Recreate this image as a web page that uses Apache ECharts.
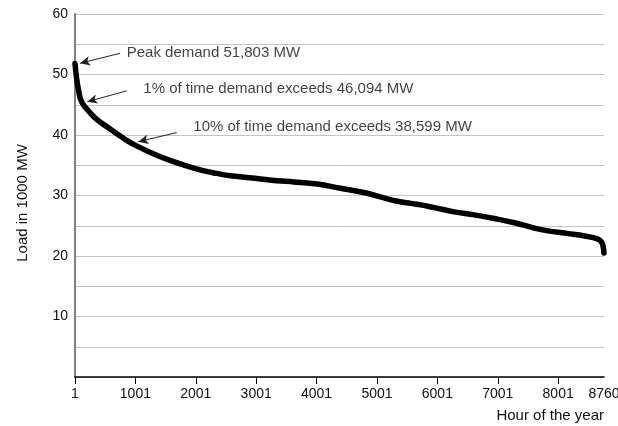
<!DOCTYPE html>
<html>
<head>
<meta charset="utf-8">
<script src="https://cdn.jsdelivr.net/npm/echarts@6/dist/echarts.min.js"></script>
<style>
html,body{margin:0;padding:0;background:#fff;}
#chart{width:618px;height:426px;}
</style>
</head>
<body>
<div id="chart"></div>
<script>
// Load duration curve data (hour rank, load in 1000 MW)
var hours = [1, 28, 71, 88, 139, 222, 361, 582, 770, 876, 1020, 1297, 1573, 1849, 2124, 2345, 2571, 3015, 3347, 3622, 4011, 4398, 4785, 5117, 5340, 5560, 5728, 5948, 6280, 6612, 6944, 7277, 7609, 7831, 8164, 8439, 8660, 8720, 8745, 8760];
var load = [51.8, 49.3, 46.8, 46.09, 45.0, 44.0, 42.6, 41.0, 39.7, 39.0, 38.2, 36.9, 35.8, 34.9, 34.1, 33.65, 33.25, 32.8, 32.45, 32.25, 31.9, 31.2, 30.5, 29.6, 29.05, 28.7, 28.45, 28.0, 27.3, 26.8, 26.2, 25.5, 24.6, 24.15, 23.7, 23.3, 22.8, 22.3, 21.6, 20.5];

var xTickLabels = [1, 1001, 2001, 3001, 4001, 5001, 6001, 7001, 8001, 8760];
var xTickMarks = [1, 1001, 2001, 3001, 4001, 5001, 6001, 7001, 8001];

// Annotations (data coordinates)
var annoText = ['Peak demand 51,803 MW', '1% of time demand exceeds 46,094 MW', '10% of time demand exceeds 38,599 MW'];
var annoTextAt = [[857, 53.6], [1132, 47.7], [1960, 41.4]];
var arrowTail = [[746, 53.5], [857, 47.3], [1685, 40.4]];
var arrowTip = [[84, 51.85], [205, 45.5], [1049, 38.9]];

var FONT = 'Liberation Sans, Arial, sans-serif';
var chart = echarts.init(document.getElementById('chart'), null, {renderer: 'canvas'});

var curve = hours.map(function (h, i) { return [h, load[i]]; });

var option = {
  animation: false,
  textStyle: {fontFamily: FONT},
  grid: {left: 75, right: 14, top: 14, bottom: 49, containLabel: false, outerBoundsMode: 'none'},
  xAxis: {
    type: 'value', min: 1, max: 8760,
    name: 'Hour of the year', nameLocation: 'end', nameGap: 0,
    nameTextStyle: {fontFamily: FONT, fontSize: 15, color: '#111', align: 'right', verticalAlign: 'top', padding: [31, 0, 0, 0]},
    axisLine: {show: true, lineStyle: {color: '#000', width: 1.5}},
    axisTick: {show: true, length: 7, customValues: xTickMarks, lineStyle: {color: '#000', width: 1}},
    axisLabel: {
      customValues: xTickLabels, fontSize: 14, color: '#111', margin: 10, fontFamily: FONT,
      formatter: function (v) { return String(v); }
    },
    splitLine: {show: false}
  },
  yAxis: {
    type: 'value', min: 0, max: 60, interval: 5,
    name: 'Load in 1000 MW', nameLocation: 'middle', nameGap: 45, nameRotate: 90,
    nameTextStyle: {fontFamily: FONT, fontSize: 15, color: '#111', padding: [0, 15, 0, 0]},
    axisLine: {show: true, lineStyle: {color: '#808080', width: 2}},
    axisTick: {show: false},
    axisLabel: {
      fontSize: 14, color: '#111', margin: 7, fontFamily: FONT,
      formatter: function (v) { return (v > 0 && v % 10 === 0) ? String(v) : ''; }
    },
    splitLine: {show: true, lineStyle: {color: '#c4c4c4', width: 1}}
  },
  series: [
    {
      type: 'line', data: curve, showSymbol: false, smooth: 0.4,
      lineStyle: {color: '#000', width: 5.5, cap: 'round', join: 'round'},
      silent: true, z: 3
    },
    {
      type: 'scatter', symbolSize: 0, silent: true, z: 4,
      data: annoTextAt.map(function (p, i) { return {value: p, name: annoText[i]}; }),
      label: {
        show: true, position: 'right', distance: 0, fontSize: 15, color: '#111', fontFamily: FONT,
        formatter: function (p) { return p.name; }
      },
      markLine: {
        silent: true, animation: false,
        symbol: ['none', 'arrow'], symbolSize: [7, 10],
        label: {show: false},
        lineStyle: {color: '#222', width: 1, type: 'solid'},
        emphasis: {disabled: true},
        data: arrowTail.map(function (t, i) { return [{coord: t}, {coord: arrowTip[i]}]; })
      }
    }
  ]
};
chart.setOption(option);
</script>
</body>
</html>
